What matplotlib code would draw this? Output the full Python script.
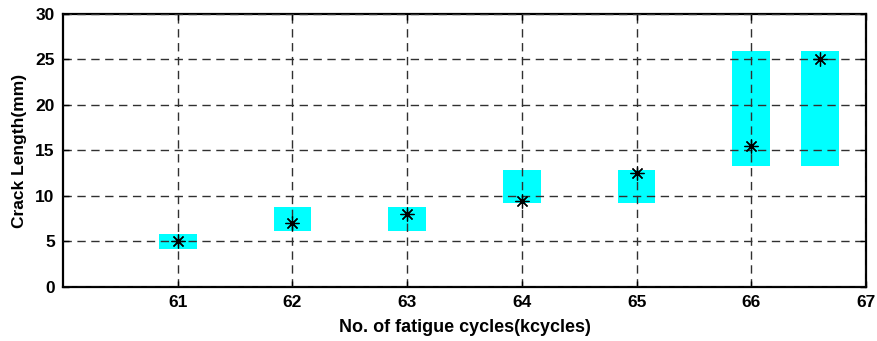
import matplotlib
matplotlib.use("Agg")
import matplotlib.pyplot as plt

# ── Data ──────────────────────────────────────────────────────────────────────
cycles = [61.0, 62.0, 63.0, 64.0, 65.0, 66.0, 66.6]
band_low = [4.2, 6.1, 6.1, 9.2, 9.2, 13.3, 13.3]
band_high = [5.8, 8.8, 8.8, 12.9, 12.9, 25.9, 25.9]
crack_len = [5.0, 7.0, 8.0, 9.5, 12.5, 15.5, 25.0]
xticks = [61, 62, 63, 64, 65, 66, 67]
yticks = [0, 5, 10, 15, 20, 25, 30]

plt.rcParams["font.family"] = ["Liberation Sans", "DejaVu Sans"]

fig = plt.figure(figsize=(8.78, 3.41), dpi=100)
ax = fig.add_axes([0.0718, 0.1584, 0.9145, 0.8006])

# ── Predicted bands ───────────────────────────────────────────────────────────
heights = [h - l for l, h in zip(band_low, band_high)]
ax.bar(cycles, heights, bottom=band_low, width=0.33, color="#00FFFF",
       edgecolor="none", zorder=1)

# ── Grid on top of bands ──────────────────────────────────────────────────────
ax.set_axisbelow(False)
ax.grid(True, linestyle=(0, (6, 4)), color="#303030", linewidth=1.0, zorder=2)

# ── Measured points ───────────────────────────────────────────────────────────
ax.plot(cycles, crack_len, linestyle="none", marker=(8, 2, 0), markersize=10,
        markeredgewidth=0.9, color="black", zorder=3)

ax.set_xlim(60, 67)
ax.set_ylim(0, 30)
ax.set_xticks(xticks)
ax.set_yticks(yticks)
ax.tick_params(direction="in", top=True, right=True, length=4, width=1,
               labelsize=12.5, pad=6)
for lbl in ax.get_xticklabels() + ax.get_yticklabels():
    lbl.set_fontweight("bold")
for sp in ax.spines.values():
    sp.set_linewidth(1.6)

ax.set_xlabel("No. of fatigue cycles(kcycles)", fontsize=13, fontweight="bold",
              labelpad=6)
ax.set_ylabel("Crack Length(mm)", fontsize=12.5, fontweight="bold", labelpad=6)

fig.savefig("out.png", dpi=100)
